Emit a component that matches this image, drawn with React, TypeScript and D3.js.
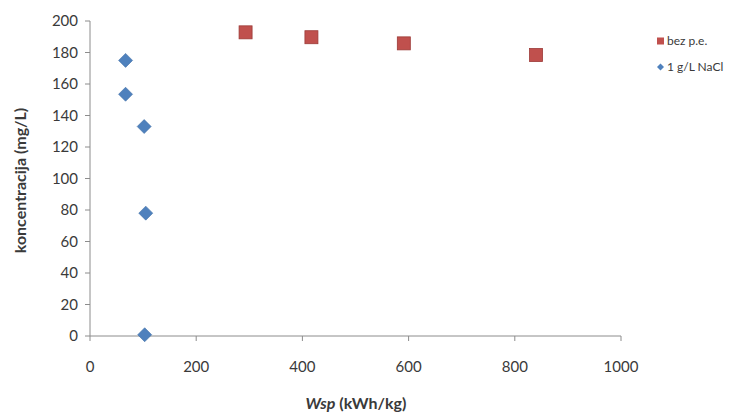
import React from "react";
import * as d3 from "d3";

const bezX = [293, 417, 591, 840];
const bezY = [192.8, 189.7, 185.8, 178.4];
const naclX = [67, 67, 102, 105, 103];
const naclY = [175, 153.5, 133, 78, 0.8];
const xTicks = [0, 200, 400, 600, 800, 1000];
const yTicks = [0, 20, 40, 60, 80, 100, 120, 140, 160, 180, 200];
const seriesNames = ["bez p.e.", "1 g/L NaCl"];

const W = 732, H = 416;
const FONT = "Lato, 'Open Sans', sans-serif";

export default function App() {
  const x = d3.scaleLinear().domain([0, 1000]).range([90, 621]);
  const y = d3.scaleLinear().domain([0, 200]).range([336, 21]);
  const axisColor = "#8c8c8c";
  const textColor = "#3a3a3a";
  const red = "#C0504D";
  const blue = "#4F81BD";
  const diamond = (cx: number, cy: number, r: number) =>
    `M${cx},${cy - r}L${cx + r},${cy}L${cx},${cy + r}L${cx - r},${cy}Z`;

  return (
    <svg width={W} height={H} style={{ position: "absolute", left: 0, top: 0, background: "#fff" }} fontFamily={FONT}>
      {/* axes */}
      <line x1={x(0)} x2={x(0)} y1={y(200)} y2={y(0)} stroke={axisColor} strokeWidth={1} />
      <line x1={x(0)} x2={x(1000)} y1={y(0)} y2={y(0)} stroke={axisColor} strokeWidth={1} />
      {yTicks.map((t) => (
        <g key={"y" + t}>
          <line x1={x(0) - 5} x2={x(0)} y1={y(t)} y2={y(t)} stroke={axisColor} />
          <text x={x(0) - 12} y={y(t)} dy="0.35em" textAnchor="end" fontSize={15} fill={textColor}>
            {t}
          </text>
        </g>
      ))}
      {xTicks.map((t) => (
        <g key={"x" + t}>
          <line x1={x(t)} x2={x(t)} y1={y(0)} y2={y(0) + 5} stroke={axisColor} />
          <text x={x(t)} y={y(0) + 31} dy="0.35em" textAnchor="middle" fontSize={15} fill={textColor}>
            {t}
          </text>
        </g>
      ))}
      {/* axis titles */}
      <text
        transform={`translate(20,${(y(0) + y(200)) / 2 + 2}) rotate(-90)`}
        dy="0.35em"
        textAnchor="middle"
        fontSize={16}
        fontWeight="bold"
        fill={textColor}
      >
        koncentracija (mg/L)
      </text>
      <text x={356} y={403} dy="0.35em" textAnchor="middle" fontSize={16} fontWeight="bold" fill={textColor}>
        <tspan fontStyle="italic">Wsp</tspan> (kWh/kg)
      </text>
      {/* series */}
      {bezX.map((v, i) => (
        <rect
          key={"b" + i}
          x={x(v) - 6.5}
          y={y(bezY[i]) - 6.5}
          width={13}
          height={13}
          fill={red}
          stroke="#9c3a37"
          strokeWidth={0.8}
        />
      ))}
      {naclX.map((v, i) => (
        <path key={"n" + i} d={diamond(x(v), y(naclY[i]), 7)} fill={blue} stroke="#3f6fa6" strokeWidth={0.6} />
      ))}
      {/* legend */}
      <rect x={657} y={37.5} width={7} height={7} fill={red} />
      <text x={667} y={41} dy="0.35em" fontSize={12} fill={textColor}>
        {seriesNames[0]}
      </text>
      <path d={diamond(660.5, 67, 3.5)} fill={blue} />
      <text x={667} y={67} dy="0.35em" fontSize={12} fill={textColor}>
        {seriesNames[1]}
      </text>
    </svg>
  );
}
